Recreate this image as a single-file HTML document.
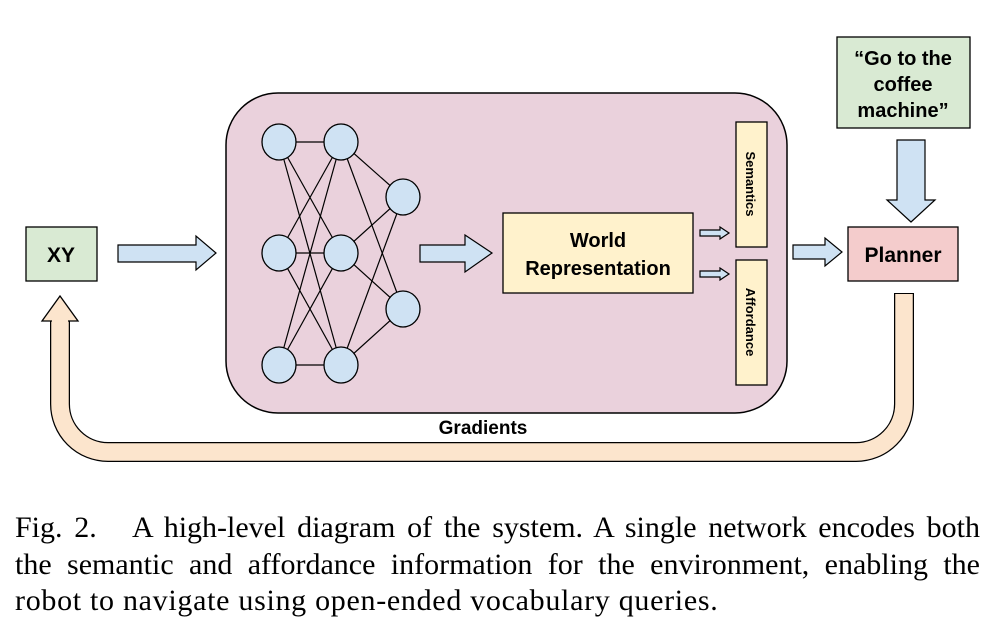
<!DOCTYPE html>
<html><head><meta charset="utf-8"><style>
body{margin:0;background:#fff;width:992px;height:626px;overflow:hidden;position:relative}
.cap{position:absolute;left:15px;width:965px;font-family:"Liberation Serif",serif;font-size:30px;line-height:34px;text-align:justify;text-align-last:justify;color:#000;white-space:nowrap}
</style></head><body>
<svg width="992" height="500" style="position:absolute;left:0;top:0" font-family="Liberation Sans, sans-serif" font-weight="bold">
<rect x="226" y="93" width="561" height="320" rx="52" fill="#ead1dc" stroke="#000" stroke-width="1.5"/>
<g stroke="#000" stroke-width="1.2">
<line x1="279" y1="142" x2="341" y2="142"/><line x1="279" y1="142" x2="341" y2="253"/><line x1="279" y1="142" x2="341" y2="365"/>
<line x1="279" y1="253" x2="341" y2="142"/><line x1="279" y1="253" x2="341" y2="253"/><line x1="279" y1="253" x2="341" y2="365"/>
<line x1="279" y1="365" x2="341" y2="142"/><line x1="279" y1="365" x2="341" y2="253"/><line x1="279" y1="365" x2="341" y2="365"/>
<line x1="341" y1="142" x2="403" y2="197"/><line x1="341" y1="142" x2="403" y2="309"/>
<line x1="341" y1="253" x2="403" y2="197"/><line x1="341" y1="253" x2="403" y2="309"/>
<line x1="341" y1="365" x2="403" y2="197"/><line x1="341" y1="365" x2="403" y2="309"/>
</g>
<g fill="#cfe2f3" stroke="#000" stroke-width="1.3">
<ellipse cx="279" cy="142" rx="17" ry="18"/><ellipse cx="279" cy="253" rx="17" ry="18"/><ellipse cx="279" cy="365" rx="17" ry="18"/>
<ellipse cx="341" cy="142" rx="17" ry="18"/><ellipse cx="341" cy="253" rx="17" ry="18"/><ellipse cx="341" cy="365" rx="17" ry="18"/>
<ellipse cx="403" cy="197" rx="17" ry="18"/><ellipse cx="403" cy="309" rx="17" ry="18"/>
</g>
<g fill="#cfe2f3" stroke="#000" stroke-width="1.2">
<polygon points="420,245 465,245 465,235 492,253 465,272 465,262 420,262"/>
<polygon points="118,245 196,245 196,236 216,253 196,270 196,262 118,262"/>
<polygon points="793,245 825,245 825,238 842,252 825,266 825,259 793,259"/>
<polygon points="897,140 925,140 925,200 935,200 911,222 887,200 897,200"/>
<polygon points="700,230 720,230 720,227 729,233 720,239 720,236 700,236"/>
<polygon points="700,271 720,271 720,268 729,274 720,280 720,277 700,277"/>
</g>
<rect x="503" y="213" width="190" height="80" fill="#fff2cc" stroke="#000" stroke-width="1.3"/>
<text x="598" y="247" font-size="20" text-anchor="middle">World</text>
<text x="598" y="275" font-size="20" text-anchor="middle">Representation</text>
<rect x="736" y="122" width="31" height="125" fill="#fff2cc" stroke="#000" stroke-width="1.3"/>
<rect x="736" y="260" width="31" height="125" fill="#fff2cc" stroke="#000" stroke-width="1.3"/>
<text transform="translate(746,184) rotate(90)" font-size="13" text-anchor="middle">Semantics</text>
<text transform="translate(746,322) rotate(90)" font-size="13" text-anchor="middle">Affordance</text>
<rect x="26" y="227" width="71" height="54" fill="#d9ead3" stroke="#000" stroke-width="1.3"/>
<text x="61" y="262" font-size="21" text-anchor="middle">XY</text>
<rect x="848" y="227" width="110" height="54" fill="#f4cccc" stroke="#000" stroke-width="1.3"/>
<text x="903" y="262" font-size="21" text-anchor="middle">Planner</text>
<rect x="837" y="37" width="133" height="91" fill="#d9ead3" stroke="#000" stroke-width="1.3"/>
<text x="903" y="65" font-size="20" text-anchor="middle">“Go to the</text>
<text x="903" y="91" font-size="20" text-anchor="middle">coffee</text>
<text x="903" y="117" font-size="20" text-anchor="middle">machine”</text>
<path d="M904,293 V404 A48,48 0 0 1 856,452 H108 A48,48 0 0 1 60,404 V320" fill="none" stroke="#000" stroke-width="20"/>
<path d="M904,294 V404 A48,48 0 0 1 856,452 H108 A48,48 0 0 1 60,404 V318" fill="none" stroke="#fce5cd" stroke-width="17.5"/>
<polygon points="42,321 60,296 78,321" fill="#fce5cd" stroke="#000" stroke-width="1.3"/>
<line x1="52" y1="321" x2="68" y2="321" stroke="#fce5cd" stroke-width="2"/>
<text x="483" y="434" font-size="19" text-anchor="middle">Gradients</text>
</svg>
<div class="cap" style="top:511px">Fig. 2.&nbsp;&nbsp;&nbsp;A high-level diagram of the system. A single network encodes both</div>
<div class="cap" style="top:548px">the semantic and affordance information for the environment, enabling the</div>
<div class="cap" style="top:584px;text-align-last:left;letter-spacing:0.7px">robot to navigate using open-ended vocabulary queries.</div>
</body></html>
